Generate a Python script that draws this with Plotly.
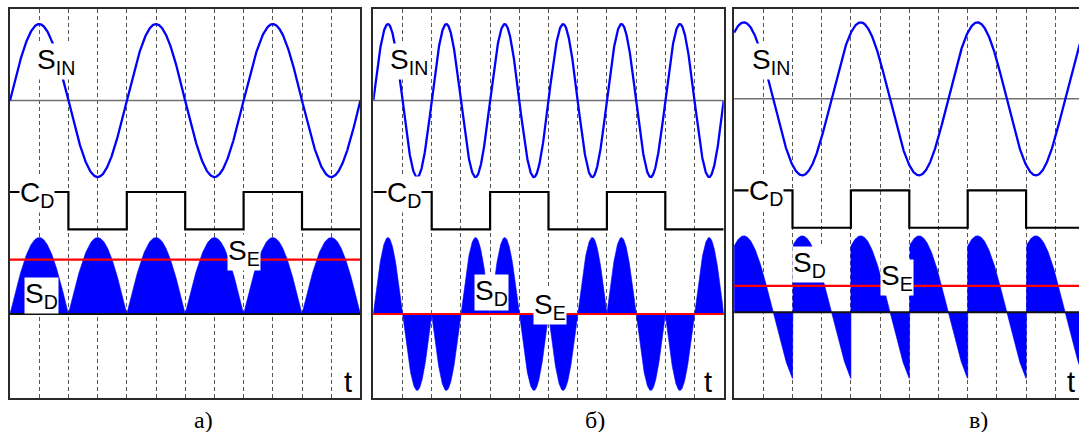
import numpy as np
import plotly.graph_objects as go

# ---------------- data ----------------
panel_labels = ["а)", "б)", "в)"]
sin_period_div = [4, 2, 4]            # period of S_IN, in grid divisions
sin_phase_deg = [0, 0, 60]            # phase of S_IN at t = 0
cd_edges = [0, 2, 4, 6, 8, 10, 12]    # switching instants of C_D
cd_states = [1, -1, 1, -1, 1, -1]     # C_D state in each interval
se_levels = [0.71, 0.0, 0.345]        # S_E level (mean of S_D)
n_div = 12                            # grid divisions per panel

# ---------------- layout constants (pixels) ----------------
W, H = 1079, 432
DIV_PX = 29.2
T0_PX = [10.0, 373.3, 734.1]          # x pixel of t = 0 for each panel
TOP_PX, BOT_PX = 9.3, 398.3
BASE_PX = [314.0, 314.0, 312.3]       # pixel row of S_D zero line
UNIT_PX = 76.5                        # pixels per unit amplitude
SIN_OFF = 2.79                        # S_IN centre above S_D zero (units)
CD_HI, CD_LO = 1.595, 1.105           # C_D high / low levels (units)

BLUE = "#0000ff"
FONT = "Liberation Sans, Arial, sans-serif"

fig = go.Figure()
annotations = []

for i in range(3):
    xa = "x" if i == 0 else f"x{i+1}"
    ya = "y" if i == 0 else f"y{i+1}"
    right_px = min(T0_PX[i] + n_div * DIV_PX, W)
    span = (right_px - T0_PX[i]) / DIV_PX
    w = 2 * np.pi / sin_period_div[i]
    ph = np.deg2rad(sin_phase_deg[i])

    # S_D = S_IN * C_D, built per C_D interval so the jumps are vertical
    td, sd = [], []
    for a, b, s in zip(cd_edges[:-1], cd_edges[1:], cd_states):
        tt = np.linspace(a, b, 240)
        td.append(tt)
        sd.append(s * np.sin(w * tt + ph))
    td = np.concatenate(td)
    sd = np.concatenate(sd)
    fig.add_trace(go.Scatter(x=td, y=sd, mode="lines", fill="tozeroy",
                             fillcolor=BLUE, line=dict(color=BLUE, width=0.6),
                             xaxis=xa, yaxis=ya, showlegend=False, hoverinfo="skip"))
    # zero line of S_D
    fig.add_trace(go.Scatter(x=[0, n_div], y=[0, 0], mode="lines",
                             line=dict(color="#111111", width=2),
                             xaxis=xa, yaxis=ya, showlegend=False, hoverinfo="skip"))
    # S_E
    fig.add_trace(go.Scatter(x=[0, n_div], y=[se_levels[i]] * 2, mode="lines",
                             line=dict(color="#ff0000", width=2.2),
                             xaxis=xa, yaxis=ya, showlegend=False, hoverinfo="skip"))
    # S_IN zero line
    fig.add_trace(go.Scatter(x=[0, n_div], y=[SIN_OFF] * 2, mode="lines",
                             line=dict(color="#707070", width=1.5),
                             xaxis=xa, yaxis=ya, showlegend=False, hoverinfo="skip"))
    # C_D
    cd_y = [CD_HI if s > 0 else CD_LO for s in cd_states]
    fig.add_trace(go.Scatter(x=cd_edges, y=cd_y + [cd_y[-1]], mode="lines",
                             line=dict(color="black", width=2.2, shape="hv"),
                             xaxis=xa, yaxis=ya, showlegend=False, hoverinfo="skip"))
    # S_IN
    ts = np.linspace(0, n_div, 1500)
    fig.add_trace(go.Scatter(x=ts, y=SIN_OFF + np.sin(w * ts + ph), mode="lines",
                             line=dict(color=BLUE, width=2.3),
                             xaxis=xa, yaxis=ya, showlegend=False, hoverinfo="skip"))

    base = BASE_PX[i]
    yr = [-(BOT_PX - base) / UNIT_PX, (base - TOP_PX) / UNIT_PX]
    fig.layout[("xaxis" if i == 0 else f"xaxis{i+1}")] = dict(
        domain=[T0_PX[i] / W, right_px / W], range=[0, span],
        showgrid=True, tick0=0, dtick=1, gridcolor="#555555", gridwidth=1,
        griddash="4px,3px", zeroline=False, showticklabels=False, ticks="",
        showline=True, mirror=True, linecolor="#2a2a2a", linewidth=2,
        anchor=ya, fixedrange=True)
    fig.layout[("yaxis" if i == 0 else f"yaxis{i+1}")] = dict(
        domain=[(H - BOT_PX) / H, (H - TOP_PX) / H], range=yr,
        showgrid=False, zeroline=False, showticklabels=False, ticks="",
        showline=True, mirror=(i < 2), linecolor="#2a2a2a", linewidth=2,
        anchor=xa, fixedrange=True)

# ---------------- labels (pixel centres) ----------------
def lab(text, xp, yp, size=28, bg="white", family=FONT):
    annotations.append(dict(text=text, x=xp / W, y=1 - yp / H, xref="paper", yref="paper",
                            xanchor="center", yanchor="middle", showarrow=False,
                            font=dict(family=family, size=size, color="black"),
                            bgcolor=bg, borderpad=0))

SIN_L = "S<sub>IN</sub>"
CD_L = "C<sub>D</sub>"
SD_L = "S<sub>D</sub>"
SE_L = "S<sub>E</sub>"

lab(SIN_L, 56, 62); lab(CD_L, 37, 194); lab(SE_L, 244, 252); lab(SD_L, 41, 295)
lab(SIN_L, 409, 62); lab(CD_L, 404, 194); lab(SD_L, 491, 292); lab(SE_L, 550, 306)
lab(SIN_L, 771, 62); lab(CD_L, 766, 192); lab(SD_L, 809, 264); lab(SE_L, 897, 277)
for xp in (347.5, 708, 1071):
    lab("t", xp, 382, size=29, bg="rgba(0,0,0,0)")
for txt, xp in zip(panel_labels, (203, 595, 978)):
    lab(txt, xp, 420, size=24, bg="rgba(0,0,0,0)", family="Liberation Serif, Times New Roman, serif")

fig.update_layout(width=W, height=H, margin=dict(l=0, r=0, t=0, b=0),
                  paper_bgcolor="white", plot_bgcolor="white",
                  annotations=annotations, showlegend=False)
fig.write_html("out.html")
